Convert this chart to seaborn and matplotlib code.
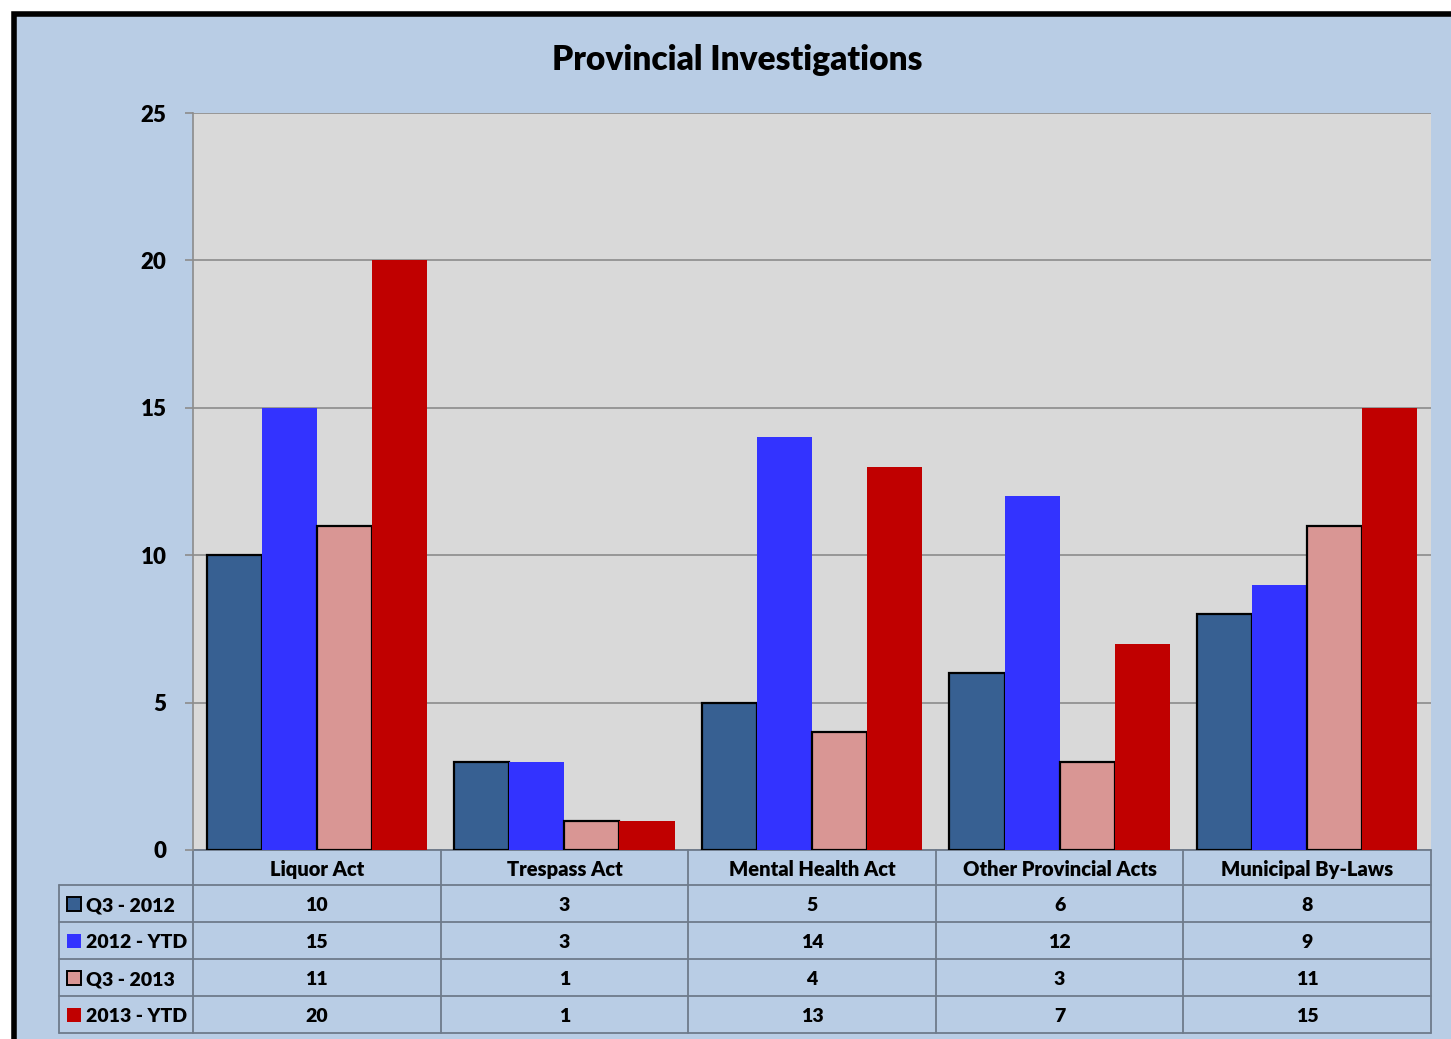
import pandas as pd
import matplotlib.pyplot as plt
import seaborn as sns
from matplotlib.patches import Rectangle
from matplotlib.lines import Line2D
import matplotlib.transforms as mtransforms

# chart data
categories = ["Liquor Act", "Trespass Act", "Mental Health Act",
              "Other Provincial Acts", "Municipal By-Laws"]
series = ["Q3 - 2012", "2012 - YTD", "Q3 - 2013", "2013 - YTD"]
q3_2012 = [10, 3, 5, 6, 8]
ytd_2012 = [15, 3, 14, 12, 9]
q3_2013 = [11, 1, 4, 3, 11]
ytd_2013 = [20, 1, 13, 7, 15]
y_ticks = [0, 5, 10, 15, 20, 25]

colors = ["#376092", "#3333FF", "#D99694", "#C00000"]
edged = [True, False, True, False]
bg_blue = "#B9CDE5"
grid_col = "#8C8C8C"
line_col = "#6E7B8B"

values = [q3_2012, ytd_2012, q3_2013, ytd_2013]
rows = []
for s, vals in zip(series, values):
    for c, v in zip(categories, vals):
        rows.append({"category": c, "series": s, "value": v})
df = pd.DataFrame(rows)

sns.set_style("white")
plt.rcParams['font.family'] = ['Lato', 'DejaVu Sans']
plt.rcParams['text.color'] = 'black'
plt.rcParams['ytick.labelcolor'] = 'black'
WEIGHT = "heavy"

W, H = 1451, 1039
fig = plt.figure(figsize=(W / 100, H / 100), dpi=100)
fig.patch.set_facecolor("white")

# outer chart frame (light blue with thick black border)
frame = Rectangle((14 / W, -0.05), 1.1, 1 - 14 / H + 0.05, transform=fig.transFigure,
                  facecolor=bg_blue, edgecolor="black", linewidth=4, zorder=0)
fig.add_artist(frame)

left, right = 193 / W, 1431 / W
bottom, top = 1 - 850 / H, 1 - 113 / H
ax = fig.add_axes([left, bottom, right - left, top - bottom])
ax.set_facecolor("#D9D9D9")

sns.barplot(data=df, x="category", y="value", hue="series", palette=colors,
            width=0.89, gap=0, saturation=1, legend=False, ax=ax, zorder=3)

for cont, has_edge in zip(ax.containers, edged):
    for bar in cont:
        if has_edge:
            bar.set_edgecolor("black")
            bar.set_linewidth(1.6)
        else:
            bar.set_linewidth(0)

ax.set_xlim(-0.5, len(categories) - 0.5)
ax.set_ylim(0, 25)
ax.set_yticks(y_ticks)
ax.set_yticklabels([str(t) for t in y_ticks], fontsize=16, fontweight=WEIGHT,
                   color="black")
ax.yaxis.grid(True, color=grid_col, linewidth=1.2, zorder=0)
ax.set_axisbelow(True)
ax.tick_params(axis="y", length=6, color=grid_col, width=1.2, pad=13, left=True)
ax.tick_params(axis="x", length=0, labelbottom=False)
ax.set_xlabel("")
ax.set_ylabel("")
for side in ["top", "right", "bottom"]:
    ax.spines[side].set_visible(False)
ax.spines["left"].set_color(grid_col)
ax.spines["left"].set_linewidth(1.2)

fig.text(737 / W, 1 - 60 / H, "Provincial Investigations", ha="center", va="center",
         fontsize=24, fontweight=WEIGHT)

# data table under the axis
ax_h = 850 - 113
header_h = 35 / ax_h
row_h = 37 / ax_h
nudge = 2 / ax_h  # text sits a touch low in its cell
label_left = (59 - 193) / (1431 - 193)
trans = mtransforms.blended_transform_factory(ax.transData, ax.transAxes)
n = len(categories)
y_bottom = -header_h - row_h * len(series)

def hline(x0, x1, y, tr):
    ax.add_line(Line2D([x0, x1], [y, y], transform=tr, color=line_col,
                       linewidth=1.3, clip_on=False))

def vline(x, y0, y1, tr):
    ax.add_line(Line2D([x, x], [y0, y1], transform=tr, color=line_col,
                       linewidth=1.3, clip_on=False))

# horizontal lines
hline(0, 1, -header_h, ax.transAxes)
hline(label_left, 0, -header_h, ax.transAxes)
for r in range(1, len(series) + 1):
    hline(label_left, 1, -header_h - r * row_h, ax.transAxes)
hline(0, 1, 0, ax.transAxes)
# vertical lines
for i in range(n + 1):
    vline(i - 0.5, y_bottom, 0, trans)
vline(label_left, y_bottom, -header_h, ax.transAxes)

for i, c in enumerate(categories):
    ax.text(i, -header_h / 2 - nudge, c, transform=trans, ha="center", va="center",
            fontsize=14.5, fontweight=WEIGHT)
for r, (s, vals) in enumerate(zip(series, values)):
    yc = -header_h - (r + 0.5) * row_h
    for i, v in enumerate(vals):
        ax.text(i, yc - nudge, str(v), transform=trans, ha="center", va="center",
                fontsize=14, fontweight=WEIGHT)
    ax.plot([label_left + 14.5 / 1238], [yc], marker="s", markersize=10,
            markerfacecolor=colors[r],
            markeredgecolor="black" if edged[r] else colors[r],
            markeredgewidth=1.4 if edged[r] else 0,
            transform=ax.transAxes, clip_on=False, zorder=5)
    ax.text(label_left + 27 / 1238, yc - nudge, s, transform=ax.transAxes, ha="left",
            va="center", fontsize=14, fontweight=WEIGHT)

fig.savefig("out.png", dpi=100)
